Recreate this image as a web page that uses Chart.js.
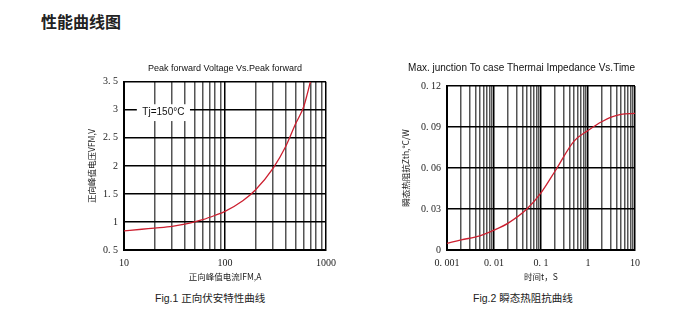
<!DOCTYPE html>
<html lang="zh">
<head>
<meta charset="UTF-8">
<title>性能曲线图</title>
<script src="https://cdn.jsdelivr.net/npm/chart.js@4.4.0/dist/chart.umd.min.js"></script>
<style>
  body { margin: 0; background: #fff; width: 699px; height: 319px; position: relative; overflow: hidden; font-family: "Liberation Sans", "Noto Sans CJK SC", sans-serif; }
  .head { position: absolute; left: 41px; top: 9px; font: bold 16px "Noto Sans CJK SC", sans-serif; color: #222; }
  .cap { position: absolute; top: 290px; font: 10.5px "Liberation Sans", "Noto Sans CJK SC", sans-serif; color: #222; }
  .box { position: absolute; }
</style>
</head>
<body>
<div class="head">性能曲线图</div>
<div class="box" style="left:60px;top:55px;width:290px;height:230px"><canvas id="fwd_chart"></canvas></div>
<div class="box" style="left:390px;top:55px;width:300px;height:230px"><canvas id="zth_chart"></canvas></div>
<div class="cap" style="left:155px">Fig.1 正向伏安特性曲线</div>
<div class="cap" style="left:473px">Fig.2 瞬态热阻抗曲线</div>
<script>
// Fig.1 forward voltage vs forward current
var fwdCurrent = [10, 15, 20, 30, 40, 50, 60, 80, 100, 150, 200, 300, 400, 500, 600, 650, 700];
var fwdVoltage = [0.84, 0.87, 0.89, 0.92, 0.96, 1.0, 1.04, 1.12, 1.19, 1.38, 1.57, 1.96, 2.35, 2.75, 3.05, 3.27, 3.5];
var fwdXTicks = [10, 20, 30, 40, 50, 60, 70, 80, 90, 100, 200, 300, 400, 500, 600, 700, 800, 900, 1000];
var fwdXLabels = {10: '10', 100: '100', 1000: '1000'};
var fwdYTicks = [0.5, 1, 1.5, 2, 2.5, 3, 3.5];
var fwdYLabels = ['0. 5', '1', '1. 5', '2', '2. 5', '3', '3. 5'];

// Fig.2 transient thermal impedance vs time
var zthTime = [0.001, 0.002, 0.005, 0.01, 0.02, 0.05, 0.1, 0.2, 0.5, 1, 1.5, 2, 3, 5, 10];
var zthValue = [0.0049, 0.0074, 0.0103, 0.0145, 0.0197, 0.030, 0.0418, 0.0578, 0.0795, 0.0875, 0.0915, 0.094, 0.097, 0.0993, 0.100];
var zthXTicks = [0.001, 0.002, 0.003, 0.004, 0.005, 0.006, 0.007, 0.008, 0.009,
                 0.01, 0.02, 0.03, 0.04, 0.05, 0.06, 0.07, 0.08, 0.09,
                 0.1, 0.2, 0.3, 0.4, 0.5, 0.6, 0.7, 0.8, 0.9,
                 1, 2, 3, 4, 5, 6, 7, 8, 9, 10];
var zthXLabels = {0.001: '0. 001', 0.01: '0. 01', 0.1: '0. 1', 1: '1', 10: '10'};
var zthYTicks = [0, 0.03, 0.06, 0.09, 0.12];
var zthYLabels = ['0', '0. 03', '0. 06', '0. 09', '0. 12'];

// Tj label box (data coords)
var tjNote = {text: 'Tj=150°C', x1: 13.4, x2: 45, y1: 2.8, y2: 3.1};

var tickFont = {family: 'Liberation Serif', size: 10};
var axisFont = {family: 'Noto Sans CJK SC', size: 8.5};

function isDecade(v) {
  var l = Math.log10(v);
  return Math.abs(l - Math.round(l)) < 1e-6;
}

function toPoints(xs, ys) {
  return xs.map(function(x, i) { return {x: x, y: ys[i]}; });
}

function makeChart(id, o) {
  return new Chart(document.getElementById(id), {
    type: 'scatter',
    data: {
      datasets: [{
        data: o.points,
        showLine: true,
        borderColor: '#cc2030',
        borderWidth: 1.3,
        pointRadius: 0,
        cubicInterpolationMode: 'monotone'
      }]
    },
    options: {
      responsive: true,
      maintainAspectRatio: false,
      animation: false,
      layout: {padding: {left: o.padLeft, right: o.padRight, top: 0, bottom: 3}},
      plugins: {
        legend: {display: false},
        tooltip: {enabled: false},
        title: {
          display: true,
          fullSize: o.titleFull,
          align: o.titleAlign,
          text: o.title,
          color: '#111',
          font: {family: 'Liberation Sans', size: o.titleSize, weight: 'normal'},
          padding: {top: o.titleTop, bottom: o.titleBottom}
        }
      },
      scales: {
        x: {
          type: 'logarithmic',
          min: o.xTicks[0],
          max: o.xTicks[o.xTicks.length - 1],
          afterBuildTicks: function(s) { s.ticks = o.xTicks.map(function(v) { return {value: v}; }); },
          afterFit: function(s) { s.height = 32; },
          ticks: {
            autoSkip: false, maxRotation: 0, padding: 7, color: '#222', font: tickFont,
            callback: function(v) { return o.xLabels[v] !== undefined ? o.xLabels[v] : ''; }
          },
          grid: {
            drawTicks: false,
            lineWidth: 1.5,
            color: function(c) { return c.tick && isDecade(c.tick.value) ? '#000' : '#555'; }
          },
          border: {color: '#000', width: 2},
          title: {display: true, text: o.xTitle, color: '#222', font: axisFont, padding: {top: 0, bottom: 0}}
        },
        y: {
          min: o.yTicks[0],
          max: o.yTicks[o.yTicks.length - 1],
          afterBuildTicks: function(s) { s.ticks = o.yTicks.map(function(v) { return {value: v}; }); },
          afterFit: function(s) { s.width = o.yWidth; },
          ticks: {
            autoSkip: false, padding: 6, color: '#222', font: tickFont,
            callback: function(v, i) { return o.yLabels[i]; }
          },
          grid: {drawTicks: false, lineWidth: 1.5, color: '#000'},
          border: {color: '#000', width: 2},
          title: {display: true, text: o.yTitle, color: '#222', font: axisFont, padding: {top: 3, bottom: 0}}
        }
      }
    },
    plugins: o.plugins || []
  });
}

var tjPlugin = {
  id: 'tjNote',
  beforeDatasetsDraw: function(chart) {
    var ctx = chart.ctx, xs = chart.scales.x, ys = chart.scales.y;
    var l = xs.getPixelForValue(tjNote.x1), r = xs.getPixelForValue(tjNote.x2);
    var t = ys.getPixelForValue(tjNote.y2), b = ys.getPixelForValue(tjNote.y1);
    ctx.save();
    ctx.fillStyle = '#fff';
    ctx.fillRect(l, t, r - l, b - t);
    ctx.fillStyle = '#111';
    ctx.font = '10px "Liberation Sans"';
    ctx.textAlign = 'center';
    ctx.textBaseline = 'middle';
    ctx.fillText(tjNote.text, (l + r) / 2, (t + b) / 2);
    ctx.restore();
  }
};

makeChart('fwd_chart', {
  points: toPoints(fwdCurrent, fwdVoltage),
  title: 'Peak forward Voltage Vs.Peak forward',
  titleSize: 9, titleAlign: 'center', titleFull: false,
  xTitle: '正向峰值电流IFM,A',
  yTitle: '正向峰值电压VFM,V',
  xTicks: fwdXTicks, xLabels: fwdXLabels,
  yTicks: fwdYTicks, yLabels: fwdYLabels,
  padLeft: 24, padRight: 24, yWidth: 40,
  titleTop: 8, titleBottom: 8,
  plugins: [tjPlugin]
});

makeChart('zth_chart', {
  points: toPoints(zthTime, zthValue),
  title: 'Max. junction To case Thermai Impedance Vs.Time',
  titleSize: 10, titleAlign: 'end', titleFull: true,
  xTitle: '时间t，S',
  yTitle: '瞬态热阻抗Zth,°C/W',
  xTicks: zthXTicks, xLabels: zthXLabels,
  yTicks: zthYTicks, yLabels: zthYLabels,
  padLeft: 8, padRight: 55, yWidth: 49,
  titleTop: 7, titleBottom: 12
});
</script>
</body>
</html>
